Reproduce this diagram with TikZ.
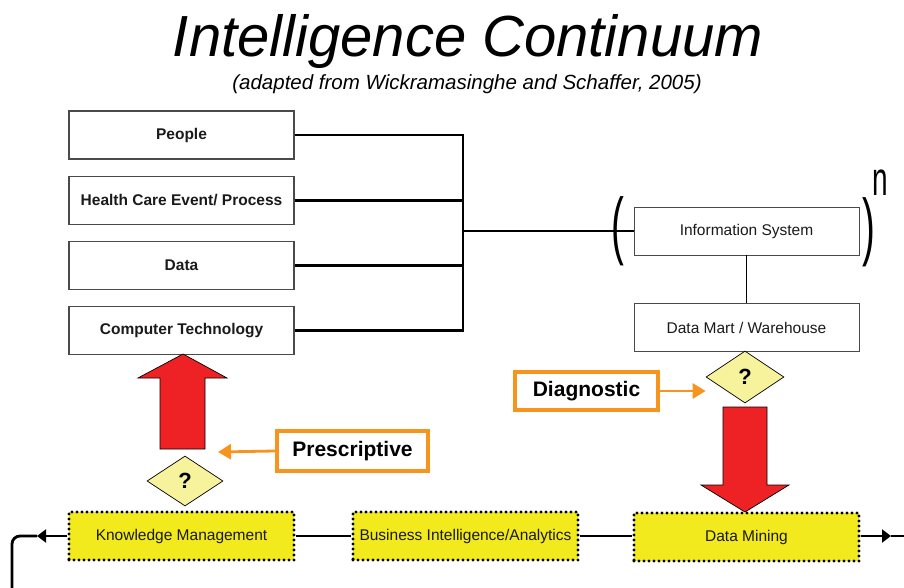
\documentclass[tikz,border=0pt]{standalone}
\usepackage{fontspec}
\setmainfont{Liberation Sans}
\usepackage{tikz}
\usetikzlibrary{arrows.meta,positioning,shapes.geometric}
\definecolor{ink}{HTML}{1A1A1A}
\definecolor{frame}{HTML}{4A4A4A}
\definecolor{hot}{HTML}{EE2224}
\definecolor{lemon}{HTML}{F2EA1C}
\definecolor{pale}{HTML}{F7F29C}
\definecolor{amber}{HTML}{F7941D}
\tikzset{
  factor/.style={draw=frame,line width=1.2pt,fill=white,minimum width=225pt,
                 minimum height=48pt,inner sep=0pt,text=ink,
                 font=\fontsize{15.5}{18}\selectfont\bfseries},
  store/.style={draw=frame,line width=0.9pt,fill=white,minimum width=225pt,
                minimum height=48pt,inner sep=0pt,text=ink,
                font=\fontsize{15.5}{18}\selectfont},
  phase/.style={draw=black,line width=3.2pt,dash pattern=on 0pt off 5pt,
                line cap=round,fill=lemon,minimum width=225pt,minimum height=48pt,
                inner sep=0pt,text=ink,font=\fontsize{15.5}{18}\selectfont},
  query/.style={diamond,draw=black,line width=0.7pt,fill=pale,inner sep=0pt,
                font=\fontsize{22}{24}\selectfont\bfseries},
  mode/.style={draw=amber,line width=4pt,fill=white,inner sep=0pt,
               font=\fontsize{21}{24}\selectfont\bfseries},
  hint/.style={-{Triangle[length=13pt,width=15pt]},line width=2.8pt,draw=amber},
  wire/.style={line width=2.8pt,draw=black},
  flow/.style={wire,-{Triangle[length=9pt,width=13pt]}},
  bigarrow/.style={fill=hot,draw=black,line width=0.7pt,line join=miter},
  bracket/.style={inner sep=0pt,xscale=0.8,yscale=1.55,font=\fontsize{48}{50}\selectfont}
}
\begin{document}
\begin{tikzpicture}[x=1pt,y=-1pt,node distance=16pt]
\useasboundingbox (0,0) rectangle (904,588);
\node[anchor=base,font=\fontsize{58}{64}\selectfont\itshape] (title) at (468,57) {Intelligence Continuum};
\node[anchor=base,font=\fontsize{20.5}{24}\selectfont\itshape] (source) at (467,90) {(adapted from Wickramasinghe and Schaffer, 2005)};

\node[factor] (people) at (181.5,135) {People};
\node[factor,below=of people] (event) {Health Care Event/ Process};
\node[factor,below=of event] (data) {Data};
\node[factor,below=of data] (tech) {Computer Technology};

\node[store] (infosys) at (746.5,231) {Information System};
\node[store,below=48pt of infosys] (mart) {Data Mart / Warehouse};
\node[bracket] (lpar) at (618,231) {(};
\node[bracket] (rpar) at (869,232) {)};
\node[inner sep=0pt,yscale=1.7,font=\fontsize{28}{30}\selectfont] (power) at (880,183) {n};

\coordinate (bus) at (463,231);
\draw[wire] (people.east) -- (people.east -| bus) -- (tech.east -| bus) -- (tech.east);
\draw[wire] (event.east) -- (event.east -| bus);
\draw[wire] (data.east) -- (data.east -| bus);
\draw[wire] (bus) -- (infosys.west);
\draw[wire,line width=1.6pt] (infosys.south) -- (mart.north);

\node[query,minimum width=78pt,minimum height=52pt] (diagq) at (745,377) {?};
\node[mode,minimum width=143pt,minimum height=38pt] (diag) at (586.5,391) {Diagnostic};
\draw[hint] (diag.east) -- (diag.east -| diagq.west);
\draw[bigarrow] (723,407) -- (767,407) -- (767,485) -- (789,485) -- (745,512)
  -- (701,485) -- (723,485) -- cycle;

\node[query,minimum width=76pt,minimum height=50pt] (prescq) at (185,481) {?};
\node[mode,minimum width=151pt,minimum height=40pt] (presc) at (352.5,451) {Prescriptive};
\coordinate (ptip) at (218,452);
\draw[hint] (presc.west) -- (ptip);
\draw[bigarrow] (160,449) -- (160,378) -- (138,378) -- (183,354) -- (227,378)
  -- (205,378) -- (205,449) -- cycle;

\node[phase] (km) at (181.5,536) {Knowledge Management};
\node[phase] (bi) at (465.5,536) {Business Intelligence/Analytics};
\node[phase] (dm) at (746.5,537) {Data Mining};
\draw[wire] (km.east) -- (km.east -| bi.west);
\draw[wire] (bi.east) -- (bi.east -| dm.west);
\coordinate (outtip) at (891,536);
\coordinate (outend) at (904,536);
\draw[flow] (dm.east |- outtip) -- (outtip);
\draw[wire] (outtip) -- (outend);
\coordinate (intip) at (37,536);
\draw[flow] (km.west) -- (intip);
\draw[wire,rounded corners=8pt] (intip) -- (12,536) -- (12,590);
\end{tikzpicture}
\end{document}
